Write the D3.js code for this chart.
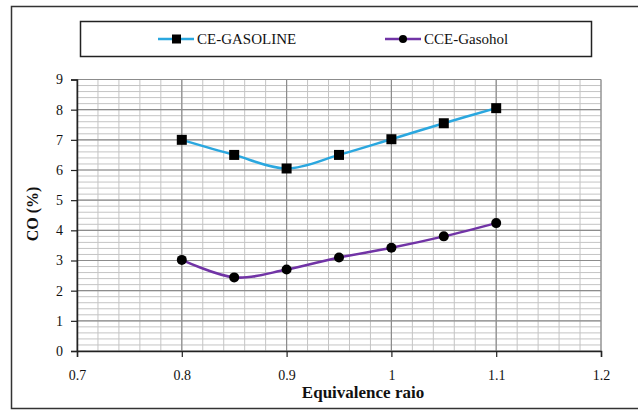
<!DOCTYPE html>
<html>
<head>
<meta charset="utf-8">
<script src="https://cdn.jsdelivr.net/npm/d3@7"></script>
<style>
  html, body { margin: 0; padding: 0; background: #fff; }
  svg { display: block; }
</style>
</head>
<body>
<svg id="chart" width="638" height="413"></svg>
<script>
// values
const ratios = [0.8, 0.85, 0.9, 0.95, 1.0, 1.05, 1.1];
const gasoline = [7.0, 6.5, 6.05, 6.5, 7.02, 7.55, 8.05];
const gasohol = [3.02, 2.44, 2.7, 3.1, 3.42, 3.8, 4.24];
const seriesNames = ['CE-GASOLINE', 'CCE-Gasohol'];
const xTicks = [0.7, 0.8, 0.9, 1.0, 1.1, 1.2];
const yTicks = [0, 1, 2, 3, 4, 5, 6, 7, 8, 9];

const style = {
  fontFamily: "'Times New Roman', Times, 'Liberation Serif', Tinos, 'Noto Serif', 'DejaVu Serif', serif",
  gasolineColor: '#2aa7df',
  gasoholColor: '#7134a6',
  majorGrid: '#8c8c8c',
  minorGrid: '#c4c4c4',
  axisColor: '#222',
  tickTextSize: '14px',
  lineWidth: 2.5,
}

const svg = d3.select('#chart');

const plot = { left: 77, right: 601, top: 79.5, bottom: 351 };

const xScale = d3.scaleLinear().domain([0.7, 1.2]).range([plot.left, plot.right]);
const yScale = d3.scaleLinear().domain([0, 9]).range([plot.bottom, plot.top]);

// outer frame (runs off the right edge in the original)
svg.append('rect')
  .attr('x', 11.5).attr('y', 6.5)
  .attr('width', 700).attr('height', 402)
  .attr('fill', 'none')
  .attr('stroke', '#333')
  .attr('stroke-width', 1.5);

// grid
const grid = svg.append('g').attr('class', 'grid');
const minorX = d3.range(0, 26).map(i => 0.7 + i * 0.02);
const minorY = d3.range(0, 46).map(i => i * 0.2);

grid.selectAll('line.minor-x')
  .data(minorX)
  .enter()
  .append('line')
    .attr('x1', d => xScale(d)).attr('x2', d => xScale(d))
    .attr('y1', plot.top).attr('y2', plot.bottom)
    .attr('stroke', style.minorGrid)
    .attr('stroke-width', 1);

grid.selectAll('line.minor-y')
  .data(minorY)
  .enter()
  .append('line')
    .attr('x1', plot.left).attr('x2', plot.right)
    .attr('y1', d => yScale(d)).attr('y2', d => yScale(d))
    .attr('stroke', style.minorGrid)
    .attr('stroke-width', 1);

grid.selectAll('line.major-x')
  .data(xTicks)
  .enter()
  .append('line')
    .attr('x1', d => xScale(d)).attr('x2', d => xScale(d))
    .attr('y1', plot.top).attr('y2', plot.bottom)
    .attr('stroke', style.majorGrid)
    .attr('stroke-width', 1.2);

grid.selectAll('line.major-y')
  .data(yTicks)
  .enter()
  .append('line')
    .attr('x1', plot.left).attr('x2', plot.right)
    .attr('y1', d => yScale(d)).attr('y2', d => yScale(d))
    .attr('stroke', style.majorGrid)
    .attr('stroke-width', 1.2);

// axes
const xAxis = d3.axisBottom(xScale)
  .tickValues(xTicks)
  .tickSize(6)
  .tickPadding(13)
  .tickFormat(d => d3.format('')(+d.toFixed(1)));

const xAxisSel = svg.append('g')
  .attr('transform', `translate(0, ${plot.bottom})`)
  .call(xAxis);

const yAxis = d3.axisLeft(yScale)
  .tickValues(yTicks)
  .tickSize(6)
  .tickPadding(8);

const yAxisSel = svg.append('g')
  .attr('transform', `translate(${plot.left}, 0)`)
  .call(yAxis);

[xAxisSel, yAxisSel].forEach(sel => {
  sel.attr('font-family', null).attr('font-size', null);
  sel.select('.domain').attr('stroke', style.axisColor).attr('stroke-width', 1.5);
  sel.selectAll('.tick line').attr('stroke', style.axisColor).attr('stroke-width', 1.2);
  sel.selectAll('.tick text')
    .attr('fill', '#111')
    .style('font-size', style.tickTextSize)
    .style('font-family', style.fontFamily);
});

// axis titles
svg.append('text')
  .attr('x', 363)
  .attr('y', 398)
  .attr('text-anchor', 'middle')
  .style('font-family', style.fontFamily)
  .style('font-weight', 'bold')
  .style('font-size', '17px')
  .attr('fill', '#111')
  .text('Equivalence raio');

svg.append('text')
  .attr('transform', 'translate(38, 214) rotate(-90)')
  .attr('text-anchor', 'middle')
  .style('font-family', style.fontFamily)
  .style('font-weight', 'bold')
  .style('font-size', '16px')
  .attr('fill', '#111')
  .text('CO (%)');

// series
const lineGen = d3.line()
  .curve(d3.curveCardinal.tension(0))
  .x((d, i) => xScale(ratios[i]))
  .y(d => yScale(d));

const series = [
  { name: seriesNames[0], values: gasoline, color: style.gasolineColor, marker: 'square' },
  { name: seriesNames[1], values: gasohol, color: style.gasoholColor, marker: 'circle' },
];

series.forEach(s => {
  svg.append('path')
    .attr('d', lineGen(s.values))
    .attr('fill', 'none')
    .attr('stroke', s.color)
    .attr('stroke-width', style.lineWidth);

  const g = svg.append('g');
  if (s.marker === 'square') {
    g.selectAll('rect')
      .data(s.values)
      .enter()
      .append('rect')
        .attr('x', (d, i) => xScale(ratios[i]) - 5)
        .attr('y', d => yScale(d) - 5)
        .attr('width', 10).attr('height', 10)
        .attr('fill', '#000');
  } else {
    g.selectAll('circle')
      .data(s.values)
      .enter()
      .append('circle')
        .attr('cx', (d, i) => xScale(ratios[i]))
        .attr('cy', d => yScale(d))
        .attr('r', 5)
        .attr('fill', '#000');
  }
});

// legend
const legend = svg.append('g');
legend.append('rect')
  .attr('x', 80.5).attr('y', 21.5)
  .attr('width', 511).attr('height', 35)
  .attr('fill', '#fff')
  .attr('stroke', '#222')
  .attr('stroke-width', 1.5);

const legendItems = [
  { x: 158, ...series[0] },
  { x: 385, ...series[1] },
];

legendItems.forEach(item => {
  const cy = 39;
  legend.append('line')
    .attr('x1', item.x).attr('x2', item.x + 36)
    .attr('y1', cy).attr('y2', cy)
    .attr('stroke', item.color)
    .attr('stroke-width', 2.5);
  if (item.marker === 'square') {
    legend.append('rect')
      .attr('x', item.x + 14).attr('y', cy - 4.5)
      .attr('width', 9).attr('height', 9)
      .attr('fill', '#000');
  } else {
    legend.append('circle')
      .attr('cx', item.x + 18).attr('cy', cy)
      .attr('r', 4)
      .attr('fill', '#000');
  }
  legend.append('text')
    .attr('x', item.x + 39)
    .attr('y', cy + 5)
    .style('font-family', style.fontFamily)
    .style('font-size', '15px')
    .attr('fill', '#111')
    .text(item.name);
});
</script>
</body>
</html>
